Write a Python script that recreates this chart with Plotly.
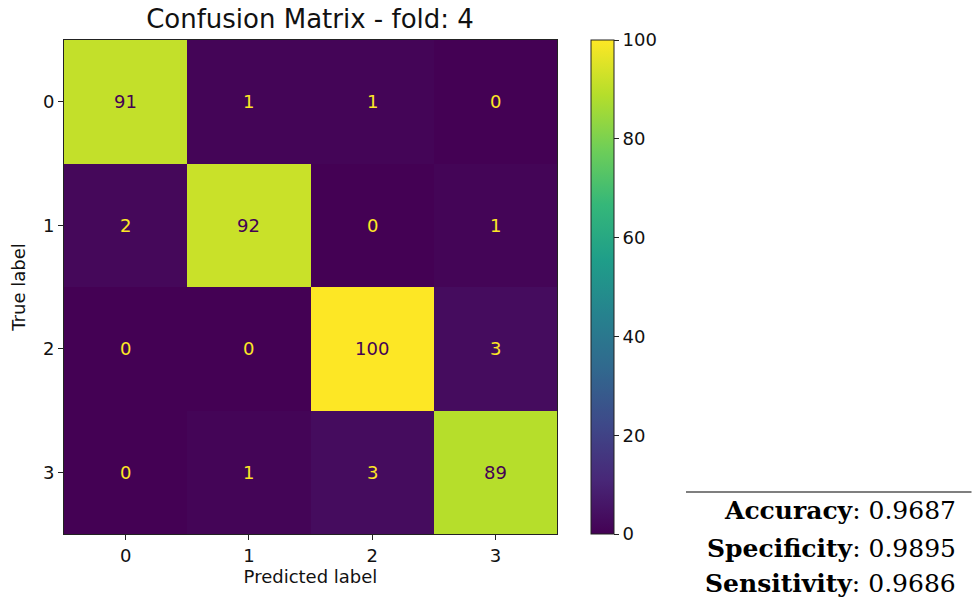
import plotly.graph_objects as go

classes = ["0", "1", "2", "3"]
cm = [
    [91, 1, 1, 0],
    [2, 92, 0, 1],
    [0, 0, 100, 3],
    [0, 1, 3, 89],
]
metric_names = ["Accuracy", "Specificity", "Sensitivity"]
metric_values = [0.9687, 0.9895, 0.9686]
title = "Confusion Matrix - fold: 4"

OFF = 0  # body margin removed via post_script
W, H = 972 - OFF, 602 - OFF
L, R, T, B = 64 - OFF, 557 - OFF, 40 - OFF, 534 - OFF
FS = 18

def px_x(x):
    return (x - OFF - L) / (R - L)

def px_y(y):
    return (B - (y - OFF)) / (B - T)

fig = go.Figure()
fig.add_trace(go.Heatmap(
    z=cm, x=list(range(len(classes))), y=list(range(len(classes))),
    colorscale="Viridis", zmin=0, zmax=100, xgap=0, ygap=0,
    hoverinfo="skip",
    colorbar=dict(
        x=px_x(591), xanchor="left", xpad=0, ypad=0,
        thickness=23, thicknessmode="pixels", len=1, lenmode="fraction",
        y=0.5, yanchor="middle",
        outlinewidth=1, outlinecolor="#222",
        tickvals=[0, 20, 40, 60, 80, 100], ticks="outside", ticklen=5,
        tickcolor="#222", tickfont=dict(family="DejaVu Sans", size=FS, color="#111"),
    ),
))

zmax = max(max(r) for r in cm)
zmin = min(min(r) for r in cm)
thresh = (zmax + zmin) / 2
for i, row in enumerate(cm):
    for j, v in enumerate(row):
        fig.add_annotation(
            x=j, y=i, text=str(v), showarrow=False,
            font=dict(family="DejaVu Sans", size=FS,
                      color="#440154" if v > thresh else "#fde725"),
        )

axis_common = dict(
    tickvals=list(range(4)), ticktext=classes,
    ticks="outside", ticklen=5, tickcolor="#222", showgrid=False, zeroline=False,
    showline=True, mirror=True, linecolor="#222", linewidth=1,
    tickfont=dict(family="DejaVu Sans", size=FS, color="#111"),
)
fig.update_xaxes(
    range=[-0.5, 3.5], **axis_common,
    title=dict(text="Predicted label", font=dict(family="DejaVu Sans", size=FS, color="#111"), standoff=5),
)
fig.update_yaxes(
    range=[3.5, -0.5], **axis_common,
    title=dict(text="True label", font=dict(family="DejaVu Sans", size=FS, color="#111"), standoff=12),
)

# metrics table
fig.add_shape(type="line", xref="paper", yref="paper",
              x0=px_x(686), x1=px_x(971.5),
              y0=px_y(492), y1=px_y(492),
              line=dict(color="black", width=1.2))
ys = [510, 548, 583]
for name, val, yy in zip(metric_names, metric_values, ys):
    fig.add_annotation(
        xref="paper", yref="paper",
        x=px_x(958), y=px_y(yy),
        xanchor="right", yanchor="middle", showarrow=False,
        text=f"<b>{name}</b>: {val:.4f}",
        font=dict(family="DejaVu Serif", size=25, color="black"),
    )

fig.update_layout(
    width=W, height=H,
    margin=dict(l=L, r=W - R, t=T, b=H - B),
    plot_bgcolor="white", paper_bgcolor="white",
    title=dict(text=title, x=(310 - OFF) / W, xanchor="center", y=1 - (19 - OFF) / H, yanchor="middle",
               font=dict(family="DejaVu Sans", size=26, color="#111")),
    showlegend=False,
)

fig.write_html(
    "out.html",
    config={"displayModeBar": False},
    post_script="document.body.style.margin='0';document.body.style.overflow='hidden';",
)
